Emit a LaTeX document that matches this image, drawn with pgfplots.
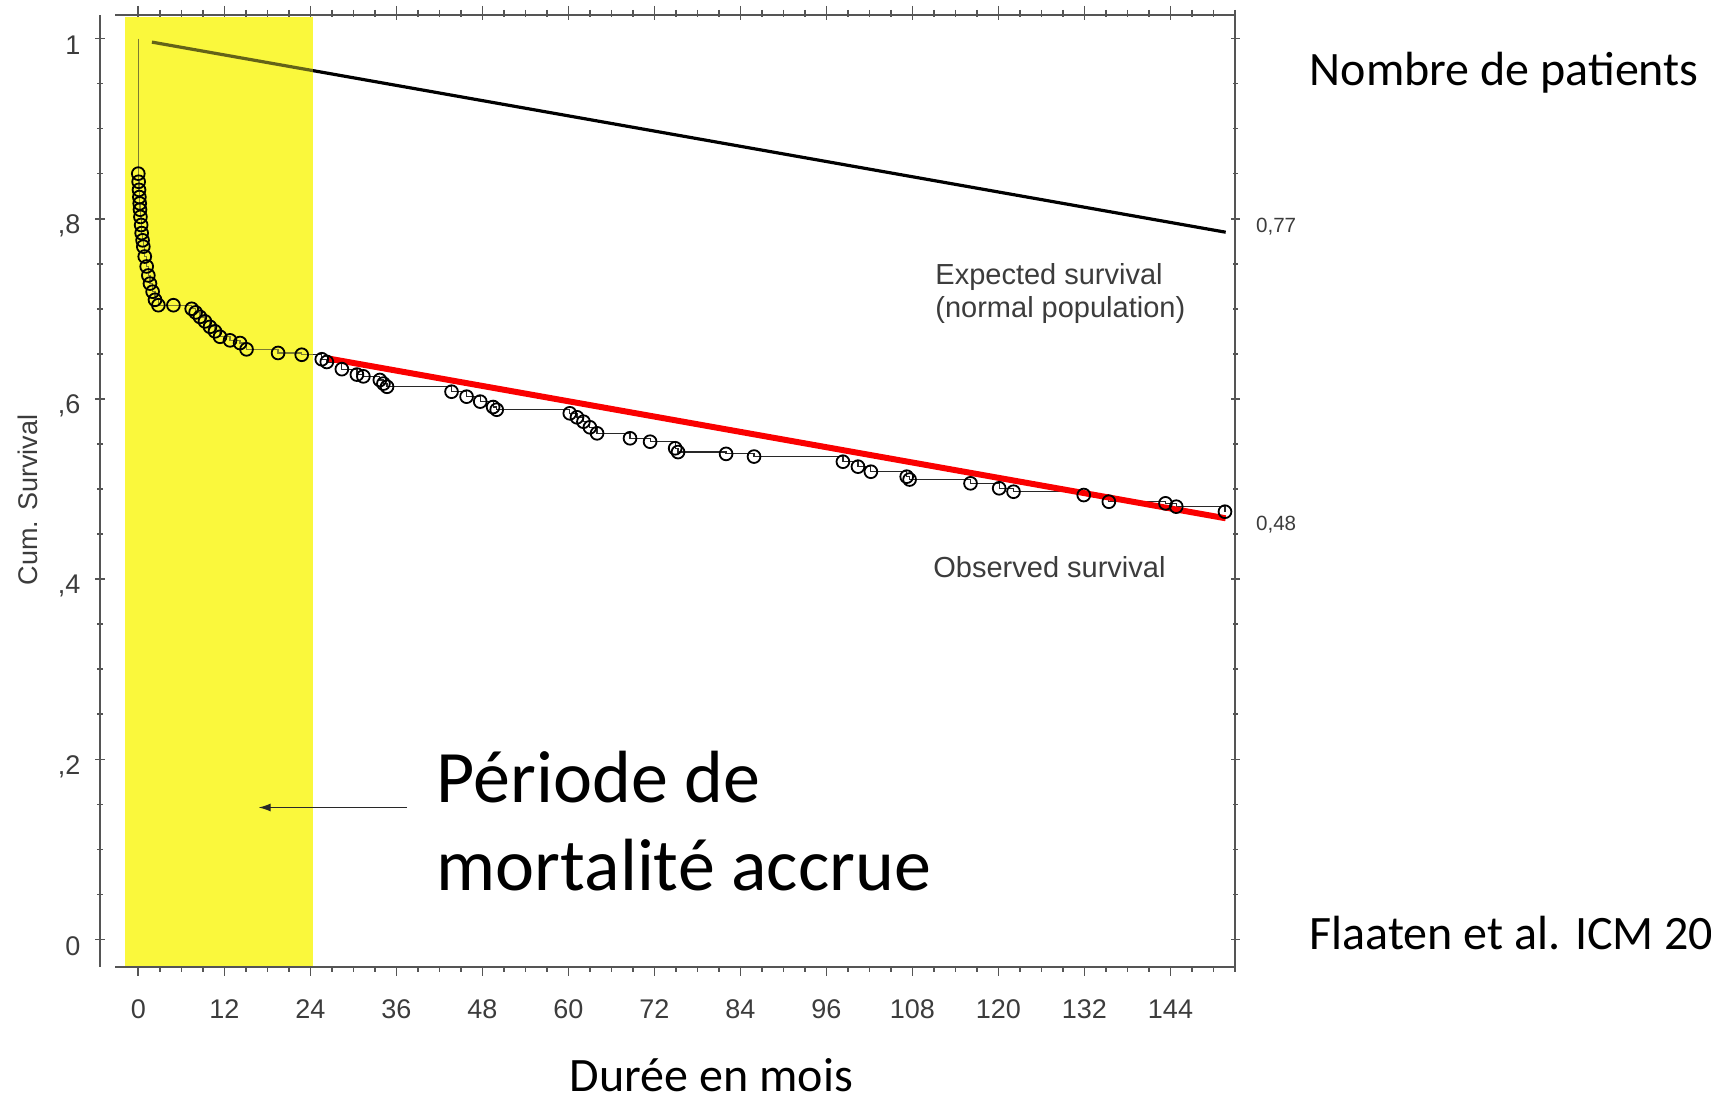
\documentclass[border=0pt]{standalone}
\usepackage{fontspec}
\setmainfont{Carlito}
\newfontfamily\arial{Liberation Sans}
\usepackage{pgfplots}
\pgfplotsset{compat=1.18}
\usepackage{pgfplotstable}
\usetikzlibrary{arrows.meta}

\definecolor{axisgray}{RGB}{85,85,85}
\definecolor{labelgray}{RGB}{60,60,60}
\definecolor{kmgray}{RGB}{40,40,40}
\definecolor{hiyellow}{RGB}{250,248,60}
\definecolor{fitred}{RGB}{250,0,0}

% Kaplan-Meier estimate: month, cumulative survival
\pgfplotstableread{
m v
0 1.000
0 0.850
0.05 0.841
0.1 0.832
0.15 0.824
0.2 0.817
0.24 0.810
0.3 0.802
0.4 0.793
0.47 0.784
0.6 0.776
0.7 0.769
0.9 0.758
1.17 0.747
1.4 0.737
1.63 0.728
2.0 0.719
2.33 0.710
2.8 0.704
4.9 0.704
7.45 0.700
8.0 0.696
8.6 0.691
9.3 0.686
10.0 0.680
10.7 0.675
11.4 0.669
12.8 0.665
14.2 0.662
15.1 0.655
19.5 0.651
22.8 0.649
25.6 0.644
26.3 0.641
28.4 0.633
30.5 0.627
31.4 0.625
33.7 0.621
34.2 0.617
34.7 0.6135
43.7 0.608
45.8 0.6025
47.7 0.597
49.5 0.591
50.0 0.588
60.2 0.584
61.2 0.5796
62.1 0.5747
63.0 0.5685
64.0 0.5618
68.6 0.5563
71.4 0.5525
74.9 0.5452
75.3 0.541
82.0 0.539
85.9 0.536
98.3 0.5303
100.4 0.5248
102.2 0.5192
107.2 0.5137
107.6 0.5105
116.1 0.5063
120.1 0.5008
122.1 0.497
131.9 0.4933
135.4 0.4859
143.3 0.4841
144.8 0.4804
151.6 0.4748
}\observed

\pgfplotsset{
  kmframe/.style={
    at={(0pt,0pt)}, anchor=south west,
    scale only axis, width=560pt, height=476pt,
    xmin=-3.25, xmax=153, ymin=-0.0305, ymax=1.0261,
    ytick={0,0.2,0.4,0.6,0.8,1},
    minor ytick={0.05,0.1,0.15,0.25,0.3,0.35,0.45,0.5,0.55,0.65,0.7,0.75,0.85,0.9,0.95},
    tick align=outside,
    major tick length=4.5pt, minor tick length=2.5pt,
    every tick/.style={axisgray, line width=0.8pt},
    every minor tick/.style={axisgray, line width=0.8pt},
  },
  plainlines/.style={
    axis line style={-, axisgray, line width=1.1pt},
    every outer y axis line/.append style={-},
    every inner y axis line/.append style={-},
    every outer x axis line/.append style={-},
    every inner x axis line/.append style={-},
    x axis line style={-}, y axis line style={-},
  }
}

\begin{document}
\begin{tikzpicture}
\useasboundingbox (-57.5pt,-67pt) rectangle (798pt,483.5pt);

% left axis, set slightly apart from the frame
\begin{axis}[kmframe,
  at={(-7.5pt,0pt)},
  axis x line=none, axis y line=left, plainlines,
  yticklabels={0,{,2},{,4},{,6},{,8},1},
  yticklabel style={font=\arial\fontsize{13.5}{13.5}\selectfont, text=labelgray, xshift=-4pt, yshift=-3.5pt},
]
\addplot[draw=none] coordinates {(0,0)};
\end{axis}

% top edge with its month ticks
\begin{axis}[kmframe,
  axis x line=top, axis y line=none, plainlines,
  xtick={0,12,...,144}, xticklabels={},
  minor xtick={3,6,...,153},
  major tick length=5pt,
]
\addplot[draw=none] coordinates {(0,0)};
\end{axis}

% frame, data and annotations
\begin{axis}[kmframe,
  axis x line=box, axis y line=right, plainlines,
  xtick pos=both,
  xtick={0,12,...,144},
  xticklabels={0,12,24,36,48,60,72,84,96,108,120,132,144},
  minor xtick={3,6,...,153},
  yticklabels={},
  xticklabel style={font=\arial\fontsize{13.5}{13.5}\selectfont, text=labelgray, yshift=-8.5pt},
  clip=false,
]
\fill[hiyellow] (axis cs:-1.86,-0.029) rectangle (axis cs:24.41,1.0235);

\addplot[black, line width=1.6pt] coordinates {(1.9,0.996) (151.7,0.785)};
\addplot[const plot, no marks, draw=kmgray, line width=0.6pt] table[x=m,y=v]{\observed};
\addplot[only marks, mark=o, mark size=3.2pt, mark options={line width=0.9pt, draw=black},
  skip coords between index={0}{1}] table[x=m,y=v]{\observed};
\addplot[fitred, line width=3pt] coordinates {(26.4,0.645) (151.7,0.4675)};

\fill[hiyellow, opacity=0.4] (axis cs:-1.86,-0.029) rectangle (axis cs:24.41,1.0235);

\node[anchor=west, font=\arial\fontsize{10.3}{11}\selectfont, text=labelgray] at (axis cs:153,0.7908) [xshift=7pt] {0,77};
\node[anchor=west, font=\arial\fontsize{10.3}{11}\selectfont, text=labelgray] at (axis cs:153,0.461) [xshift=7pt] {0,48};
\end{axis}

\node[rotate=90, font=\arial\fontsize{13.5}{14}\selectfont, text=labelgray] at (-43.5pt,233.5pt) {Cum. Survival};

\node[anchor=base west, inner sep=0pt, font=\arial\fontsize{14.5}{16}\selectfont, text=labelgray] at (410pt,341pt) {Expected survival};
\node[anchor=base west, inner sep=0pt, font=\arial\fontsize{14.5}{16}\selectfont, text=labelgray] at (410pt,324.5pt) {(normal population)};
\node[anchor=base west, inner sep=0pt, font=\arial\fontsize{14.5}{16}\selectfont, text=labelgray] at (409pt,194.5pt) {Observed survival};

\draw[-{Latex[length=6pt,width=4pt]}, line width=0.6pt, kmgray] (146pt,79.75pt) -- (71.8pt,79.75pt);
\node[anchor=base west, inner sep=0pt, font=\fontsize{37}{44}\selectfont] at (160.7pt,82pt) {Période de};
\node[anchor=base west, inner sep=0pt, font=\fontsize{37}{44}\selectfont] at (160.7pt,38pt) {mortalité accrue};

\node[anchor=base west, inner sep=0pt, font=\fontsize{24}{29}\selectfont] at (597.2pt,440.5pt) {Nombre de patients};
\node[anchor=base west, inner sep=0pt, font=\fontsize{24}{29}\selectfont] at (597.2pt,8.5pt) {Flaaten et al. ICM 20};
\node[anchor=base, inner sep=0pt, font=\fontsize{24}{29}\selectfont] at (298.2pt,-62pt) {Durée en mois};
\end{tikzpicture}
\end{document}
